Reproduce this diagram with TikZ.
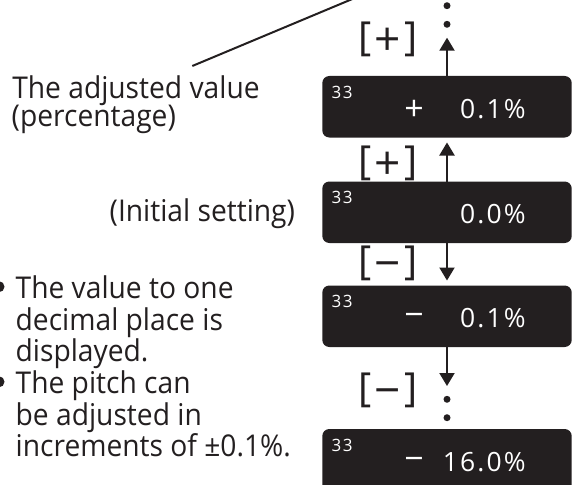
\documentclass[tikz,border=0pt]{standalone}
\usepackage{fontspec}
\setmainfont{Open Sans}[FakeStretch=0.94]
\newfontfamily\dispfont{Open Sans}[LetterSpace=8]
\newfontfamily\signfont{Open Sans}
\usetikzlibrary{arrows.meta}
\definecolor{ink}{HTML}{231F20}
\begin{document}
\begin{tikzpicture}[x=1pt,y=-1pt,
  every node/.style={inner sep=0pt,outer sep=0pt},
  lab/.style={text=ink,font=\fontsize{30}{30}\selectfont,anchor=base west},
  disp/.style={fill=ink,rounded corners=7pt,minimum width=249.4pt,minimum height=61.5pt,anchor=north},
  small/.style={text=white,font=\dispfont\fontsize{17}{17}\selectfont,anchor=base west},
  val/.style={text=white,font=\dispfont\fontsize{26.5}{26.5}\selectfont,anchor=base east},
  sgn/.style={text=white,font=\signfont\fontsize{34}{34}\selectfont},
  brk/.style={text=ink,font=\signfont\fontsize{40}{40}\selectfont},
  arr/.style={draw=ink,line width=2pt,-{Triangle[width=15pt,length=13pt]}},
  dotc/.style={fill=ink}]
\useasboundingbox (0,0) rectangle (572,484);
% display boxes
\node[disp] (b1) at (447,76) {};
\node[disp] (b2) at (447,181.5) {};
\node[disp] (b3) at (447,285.5) {};
\node[disp,minimum height=70pt] (b4) at (447,429) {};
% box contents
\node[small] (s1) at (331.7,98.3) {33};
\node[sgn] (g1) at (414,110) {+};
\node[val] (v1) at (525.7,118.3) {0.1\%};
\node[small] (s2) at (331.7,203.8) {33};
\node[val] (v2) at (525.7,223.8) {0.0\%};
\node[small] (s3) at (331.7,307.8) {33};
\node[sgn] (g3) at (414,320) {−};
\node[val] (v3) at (525.7,327.8) {0.1\%};
\node[small] (s4) at (331.7,451.3) {33};
\node[sgn] (g4) at (414,464) {−};
\node[val] (v4) at (525.7,471.3) {16.0\%};
% arrows
\coordinate (t1) at (447,37.7);
\coordinate (t4) at (447,386);
\draw[arr] (b1.north) -- (t1);
\draw[arr,shorten >=5pt] (b2.north) -- (b1.south);
\draw[arr,shorten >=5pt] (b2.south) -- (b3.north);
\draw[arr] (b3.south) -- (t4);
% dots
\fill[dotc] (447,5.7) circle (3.5);
\fill[dotc] (447,24.3) circle (3.5);
\fill[dotc] (447,399.3) circle (3.5);
\fill[dotc] (447,417.7) circle (3.5);
% key labels
\node[brk] (k1) at (388,39) {[\hspace{3pt}\raisebox{-5pt}{\fontsize{46}{46}\selectfont +}\hspace{3pt}]};
\node[brk] (k2) at (388,163) {[\hspace{3pt}\raisebox{-5pt}{\fontsize{46}{46}\selectfont +}\hspace{3pt}]};
\node[brk] (k3) at (388,263) {[\hspace{3pt}\raisebox{-5pt}{\fontsize{46}{46}\selectfont −}\hspace{3pt}]};
\node[brk] (k4) at (388,390) {[\hspace{3pt}\raisebox{-5pt}{\fontsize{46}{46}\selectfont −}\hspace{3pt}]};
% left texts
\node[lab] (a1) at (12.3,98.3) {The adjusted value};
\node[lab] (a2) at (11.7,126.7) {(percentage)};
\coordinate (lt) at (365,-6.3);
\draw[ink,line width=2pt] (192.3,66) coordinate (ls) -- (lt);
\node[lab,anchor=base east] (i1) at (295,221.7) {(Initial setting)};
\fill[dotc] (-1,286.7) circle (5.5);
\fill[dotc] (-1,381.8) circle (5.5);
\node[lab] (p1) at (15.7,298.3) {The value to one};
\node[lab] (p2) at (15.7,330) {decimal place is};
\node[lab] (p3) at (15.7,361.7) {displayed.};
\node[lab] (p4) at (15.7,393.4) {The pitch can};
\node[lab] (p5) at (15.7,425.1) {be adjusted in};
\node[lab] (p6) at (15.7,456.8) {increments of ±0.1\%.};
\end{tikzpicture}
\end{document}
